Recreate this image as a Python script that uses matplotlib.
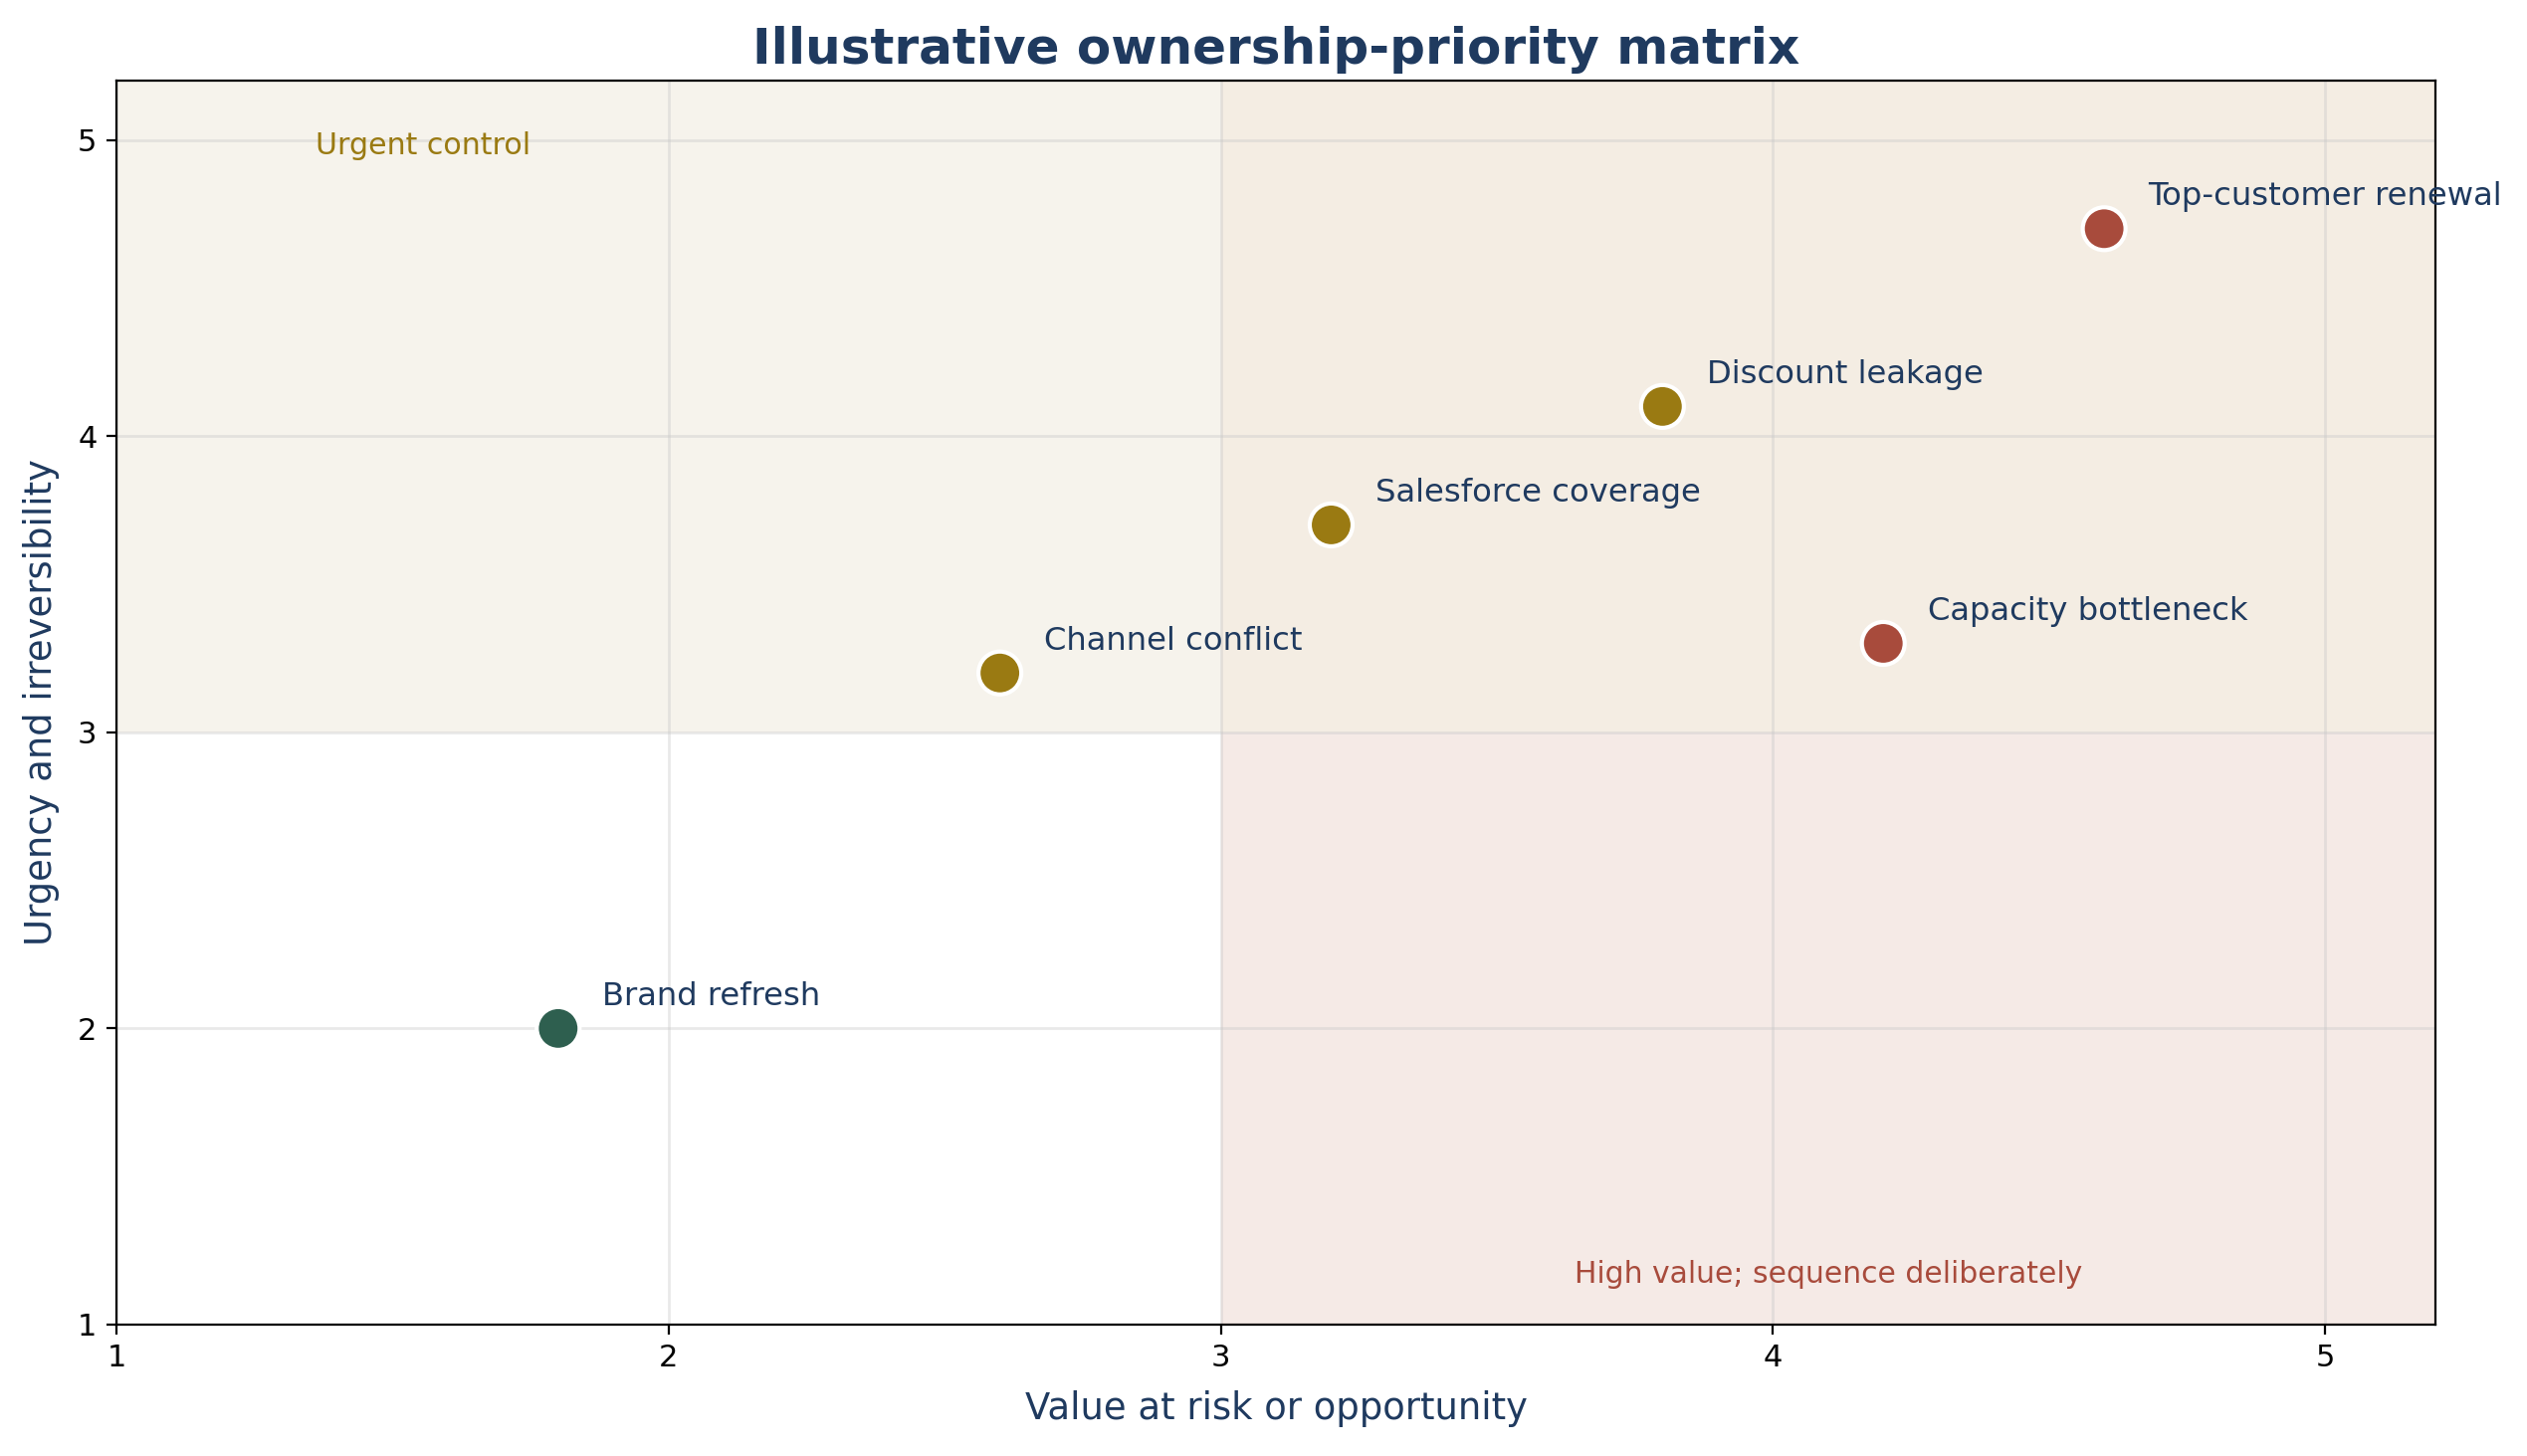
import matplotlib
matplotlib.use("Agg")
import matplotlib.pyplot as plt
from matplotlib.patches import Rectangle

# Data
names = ["Top-customer renewal", "Discount leakage", "Salesforce coverage",
         "Capacity bottleneck", "Channel conflict", "Brand refresh"]
value = [4.6, 3.8, 3.2, 4.2, 2.6, 1.8]
urgency = [4.7, 4.1, 3.7, 3.3, 3.2, 2.0]
colors = ["#A84B3C", "#9A7A12", "#9A7A12", "#A84B3C", "#9A7A12", "#2E5F4F"]

x_ticks = [1, 2, 3, 4, 5]
y_ticks = [1, 2, 3, 4, 5]
lim = (1, 5.2)
split = 3

NAVY = "#1F3A5F"

fig = plt.figure(figsize=(12.695, 7.315), dpi=200)
ax = fig.add_axes([117 / 2539, 1 - 1331 / 1463, (2447 - 117) / 2539, (1331 - 81) / 1463])

ax.set_xlim(*lim)
ax.set_ylim(*lim)

# quadrant shading
ax.add_patch(Rectangle((lim[0], split), split - lim[0], lim[1] - split,
                       facecolor="#F6F3EC", edgecolor="none", zorder=0))
ax.add_patch(Rectangle((split, split), lim[1] - split, lim[1] - split,
                       facecolor="#F4EDE3", edgecolor="none", zorder=0))
ax.add_patch(Rectangle((split, lim[0]), lim[1] - split, split - lim[0],
                       facecolor="#F5EAE6", edgecolor="none", zorder=0))

ax.set_axisbelow(True)
ax.grid(True, color="#c8c8c8", alpha=0.4, linewidth=1.0)

ax.scatter(value, urgency, s=240, c=colors, edgecolors="white", linewidths=1.5, zorder=3)
for n, xv, yv in zip(names, value, urgency):
    ax.annotate(n, (xv, yv), xytext=(16, 6), textcoords="offset points",
                ha="left", va="bottom", fontsize=11.6, color=NAVY,
                annotation_clip=False, zorder=4)

ax.text(1.36, 4.95, "Urgent control", color="#9A7A12", fontsize=10.8,
        ha="left", va="baseline")
ax.text(4.1, 1.12, "High value; sequence deliberately", color="#A84B3C", fontsize=10.75,
        ha="center", va="bottom")

ax.set_xticks(x_ticks)
ax.set_yticks(y_ticks)
ax.tick_params(labelsize=11)
ax.set_xlabel("Value at risk or opportunity", fontsize=13.3, color=NAVY, labelpad=6.5)
ax.set_ylabel("Urgency and irreversibility", fontsize=13.3, color=NAVY, labelpad=6.5)
ax.set_title("Illustrative ownership-priority matrix", fontsize=18, fontweight="bold",
             color=NAVY)

fig.savefig("out.png", dpi=200)
